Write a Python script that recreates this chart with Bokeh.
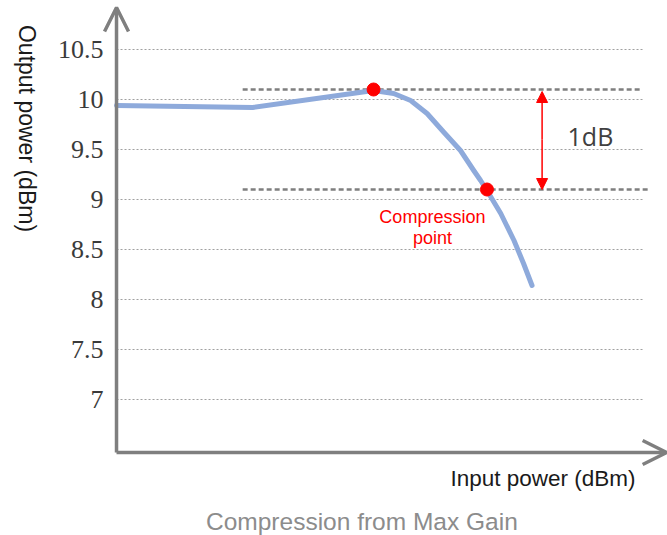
import math
from bokeh.plotting import figure
from bokeh.models import Range1d, Label, Arrow, OpenHead, NormalHead
from bokeh.embed import file_html
from bokeh.resources import INLINE

# ---- data ----
input_power = [0, 25.7, 48.5, 52.3, 55.5, 58.6, 61.8, 64.9, 67.4, 68.7, 69.9, 72.5, 75.0, 76.8, 78.4]
output_power = [9.94, 9.92, 10.09, 10.06, 9.99, 9.86, 9.67, 9.49, 9.29, 9.19, 9.09, 8.86, 8.59, 8.36, 8.14]
y_ticks = [7, 7.5, 8, 8.5, 9, 9.5, 10, 10.5]
y_tick_labels = ["7", "7.5", "8", "8.5", "9", "9.5", "10", "10.5"]
max_point = (48.5, 10.10)
comp_point = (69.9, 9.10)
ref_line_start = 23.8
ref_line_end = [98.9, 100.4]
grid_end = 99.4
x_axis_y = 6.47

AX = "#7f7f7f"
red = "#ff0000"

p = figure(width=667, height=535, output_backend="svg", toolbar_location=None,
           x_range=Range1d(-21.89, 103.96), y_range=Range1d(5.64, 10.99),
           x_axis_location=None, y_axis_location=None,
           min_border_left=0, min_border_right=0, min_border_top=0, min_border_bottom=0)
p.outline_line_color = None
p.xgrid.visible = False
p.ygrid.visible = False
p.background_fill_color = "white"
p.border_fill_color = "white"

# gridlines
p.segment(x0=[0] * len(y_ticks), y0=y_ticks, x1=[grid_end] * len(y_ticks), y1=y_ticks,
          line_color="#a0a0a0", line_width=1, line_dash="2 2")

# tick labels
p.text(x=[-2.45] * len(y_ticks), y=y_ticks, text=y_tick_labels,
       text_align="right", text_baseline="middle", text_font="Open Sans",
       text_font_size="26px", text_color="#3a3a3a")

# reference dashed lines (max and max-1dB)
p.segment(x0=[ref_line_start, ref_line_start], y0=[max_point[1], comp_point[1]],
          x1=ref_line_end, y1=[max_point[1], comp_point[1]],
          line_color="#7f7f7f", line_width=2.5, line_dash="5 3")

# curve
p.line(input_power, output_power, line_color="#8eaadb", line_width=5,
       line_cap="round", line_join="round")
p.scatter([max_point[0], comp_point[0]], [max_point[1], comp_point[1]],
          size=13, fill_color=red, line_color=red)

# axes arrows
p.add_layout(Arrow(x_start=0, y_start=x_axis_y, x_end=0, y_end=10.92,
                   line_color=AX, line_width=3.5,
                   end=OpenHead(size=24, line_color=AX, line_width=3.5)))
p.add_layout(Arrow(x_start=0, y_start=x_axis_y, x_end=103.8, y_end=x_axis_y,
                   line_color=AX, line_width=3.5,
                   end=OpenHead(size=24, line_color=AX, line_width=3.5)))

# 1dB arrow
p.add_layout(Arrow(x_start=80.3, y_start=9.6, x_end=80.3, y_end=10.08,
                   line_color=red, line_width=1.5,
                   end=NormalHead(size=11, fill_color=red, line_color=red)))
p.add_layout(Arrow(x_start=80.3, y_start=9.6, x_end=80.3, y_end=9.1,
                   line_color=red, line_width=1.5,
                   end=NormalHead(size=11, fill_color=red, line_color=red)))

p.add_layout(Label(x=85.1, y=9.64, text="1dB", text_font="Open Sans",
                   text_font_size="25px", text_color="#404040",
                   text_baseline="middle", text_align="left"))
p.add_layout(Label(x=59.6, y=8.83, text="Compression", text_font="Liberation Sans",
                   text_font_size="18px", text_color=red,
                   text_baseline="middle", text_align="center"))
p.add_layout(Label(x=59.6, y=8.62, text="point", text_font="Liberation Sans",
                   text_font_size="18px", text_color=red,
                   text_baseline="middle", text_align="center"))
p.add_layout(Label(x=63.0, y=6.21, text="Input power (dBm)", text_font="Liberation Sans",
                   text_font_size="22.5px", text_color="#1a1a1a",
                   text_baseline="middle", text_align="left"))
p.add_layout(Label(x=-16.8, y=9.71, text="Output power (dBm)", text_font="Liberation Sans",
                   text_font_size="23px", text_color="#1a1a1a", angle=-math.pi / 2,
                   text_baseline="middle", text_align="center"))
p.add_layout(Label(x=46.3, y=5.78, text="Compression from Max Gain", text_font="Liberation Sans",
                   text_font_size="24.5px", text_color="#8c8c8c",
                   text_baseline="middle", text_align="center"))

open("out.html", "w").write(file_html(p, INLINE))
